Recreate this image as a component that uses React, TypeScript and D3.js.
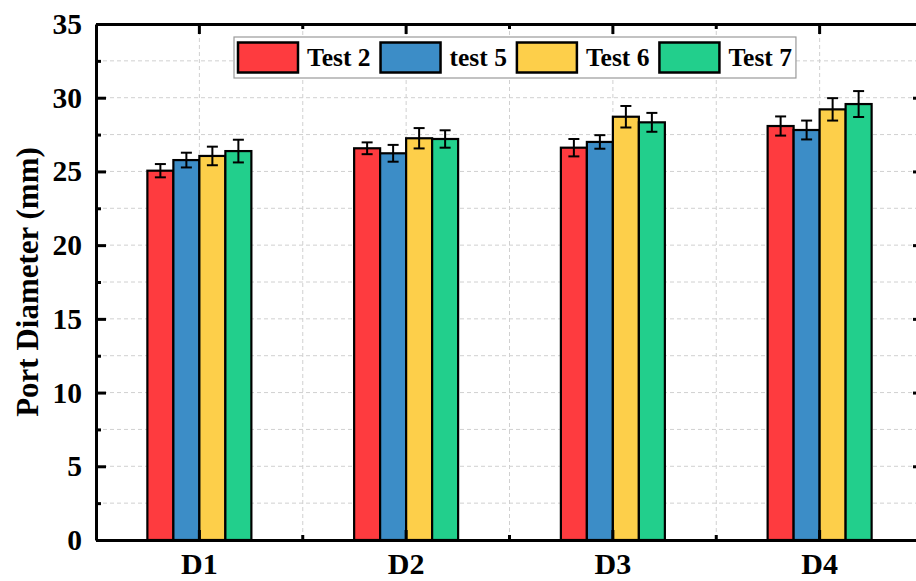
import React, { useEffect, useRef } from "react";
import * as d3 from "d3";

const categories = ["D1", "D2", "D3", "D4"];
const seriesNames = ["Test 2", "test 5", "Test 6", "Test 7"];
const seriesColors = ["#FE3B3F", "#3C8DC7", "#FDCF4A", "#22CF8C"];

const test2 = [25.05, 26.57, 26.61, 28.08];
const test5 = [25.77, 26.23, 27.0, 27.81];
const test6 = [26.05, 27.25, 28.71, 29.21];
const test7 = [26.38, 27.2, 28.33, 29.57];

const err2 = [0.45, 0.4, 0.59, 0.65];
const err5 = [0.5, 0.57, 0.46, 0.64];
const err6 = [0.63, 0.69, 0.73, 0.76];
const err7 = [0.77, 0.59, 0.64, 0.88];

const yMajor = [0, 5, 10, 15, 20, 25, 30, 35];
const yMinor = [2.5, 7.5, 12.5, 17.5, 22.5, 27.5, 32.5];

const FONT = "'Liberation Serif', 'DejaVu Serif', serif";

export default function App() {
  const ref = useRef<SVGSVGElement | null>(null);

  useEffect(() => {
    const width = 916;
    const height = 581;
    const left = 96, top = 24, right = 923, bottom = 540;

    const svg = d3.select(ref.current);
    svg.selectAll("*").remove();
    svg.attr("width", width).attr("height", height).style("font-family", FONT);

    const values = [test2, test5, test6, test7];
    const errors = [err2, err5, err6, err7];
    const rows: { cat: string; s: string; v: number; e: number; c: string }[] = [];
    categories.forEach((cat, i) => {
      seriesNames.forEach((s, j) => {
        rows.push({ cat, s, v: values[j][i], e: errors[j][i], c: seriesColors[j] });
      });
    });

    const x = d3.scaleBand().domain(categories).range([left, right]).padding(0);
    const inner = d3.scaleBand().domain(seriesNames).range([-52, 52]).padding(0);
    const y = d3.scaleLinear().domain([0, 35]).range([bottom, top]);
    const half = x.bandwidth() / 2;
    const boundaries = categories.slice(0, -1).map((c) => (x(c) as number) + x.bandwidth());
    const centers = categories.map((c) => (x(c) as number) + half);

    // grid
    const grid = svg.append("g").attr("stroke", "#d0d0d0").attr("stroke-width", 1).attr("stroke-dasharray", "4,3");
    grid.selectAll("line.h")
      .data(yMajor.concat(yMinor).filter((d) => d > 0 && d < 35))
      .join("line")
      .attr("class", "h")
      .attr("x1", left).attr("x2", right)
      .attr("y1", (d) => y(d)).attr("y2", (d) => y(d));
    grid.selectAll("line.v")
      .data(centers.concat(boundaries))
      .join("line")
      .attr("class", "v")
      .attr("x1", (d) => d).attr("x2", (d) => d)
      .attr("y1", top).attr("y2", bottom);

    // bars
    svg.append("g")
      .selectAll("rect")
      .data(rows)
      .join("rect")
      .attr("x", (d) => (x(d.cat) as number) + half + (inner(d.s) as number))
      .attr("y", (d) => y(d.v))
      .attr("width", inner.bandwidth())
      .attr("height", (d) => bottom - y(d.v))
      .attr("fill", (d) => d.c)
      .attr("stroke", "#000")
      .attr("stroke-width", 2.2);

    // error bars
    const eb = svg.append("g").attr("stroke", "#000").attr("stroke-width", 2);
    const cx = (d: any) => (x(d.cat) as number) + half + (inner(d.s) as number) + inner.bandwidth() / 2;
    eb.selectAll("line.stem").data(rows).join("line").attr("class", "stem")
      .attr("x1", cx).attr("x2", cx)
      .attr("y1", (d) => y(d.v + d.e)).attr("y2", (d) => y(d.v - d.e));
    eb.selectAll("line.capT").data(rows).join("line").attr("class", "capT")
      .attr("x1", (d) => cx(d) - 5.5).attr("x2", (d) => cx(d) + 5.5)
      .attr("y1", (d) => y(d.v + d.e)).attr("y2", (d) => y(d.v + d.e));
    eb.selectAll("line.capB").data(rows).join("line").attr("class", "capB")
      .attr("x1", (d) => cx(d) - 5.5).attr("x2", (d) => cx(d) + 5.5)
      .attr("y1", (d) => y(d.v - d.e)).attr("y2", (d) => y(d.v - d.e));

    // axes
    const styleAxis = (g: any) => {
      g.attr("font-family", null);
      g.select(".domain").attr("stroke-width", 3);
      g.selectAll(".tick line").attr("stroke-width", 3);
      g.selectAll("text")
        .style("font-family", FONT)
        .attr("font-weight", "bold")
        .attr("fill", "#000");
    };

    const yLeft = svg.append("g").attr("transform", `translate(${left},0)`)
      .call(d3.axisLeft(y).tickValues(yMajor).tickSizeInner(-10).tickSizeOuter(0).tickPadding(14));
    styleAxis(yLeft);
    yLeft.selectAll("text").attr("font-size", 29.5);

    svg.append("g").attr("transform", `translate(${left},0)`)
      .call(d3.axisLeft(y).tickValues(yMinor).tickSizeInner(-5).tickSizeOuter(0).tickFormat(() => ""))
      .call((g: any) => { g.select(".domain").remove(); g.selectAll("line").attr("stroke-width", 3); });

    const yRight = svg.append("g").attr("transform", `translate(${right},0)`)
      .call(d3.axisRight(y).tickValues(yMajor).tickSizeInner(-10).tickSizeOuter(0).tickFormat(() => ""));
    styleAxis(yRight);
    svg.append("g").attr("transform", `translate(${right},0)`)
      .call(d3.axisRight(y).tickValues(yMinor).tickSizeInner(-5).tickSizeOuter(0).tickFormat(() => ""))
      .call((g: any) => { g.select(".domain").remove(); g.selectAll("line").attr("stroke-width", 3); });

    const xBottom = svg.append("g").attr("transform", `translate(0,${bottom})`)
      .call(d3.axisBottom(x).tickSizeInner(-10).tickSizeOuter(0).tickPadding(13));
    styleAxis(xBottom);
    xBottom.selectAll("text").attr("font-size", 30);

    const xTop = svg.append("g").attr("transform", `translate(0,${top})`)
      .call(d3.axisTop(x).tickSizeInner(-10).tickSizeOuter(0).tickFormat(() => ""));
    styleAxis(xTop);

    const minorX = svg.append("g").attr("stroke", "#000").attr("stroke-width", 3);
    minorX.selectAll("line.b").data(boundaries).join("line").attr("class", "b")
      .attr("x1", (d) => d).attr("x2", (d) => d).attr("y1", bottom).attr("y2", bottom - 5);
    minorX.selectAll("line.t").data(boundaries).join("line").attr("class", "t")
      .attr("x1", (d) => d).attr("x2", (d) => d).attr("y1", top).attr("y2", top + 5);

    // y title
    svg.append("text")
      .attr("transform", `translate(38,${(top + bottom) / 2}) rotate(-90)`)
      .attr("text-anchor", "middle")
      .style("font-family", FONT)
      .attr("font-weight", "bold")
      .attr("font-size", 31)
      .text("Port Diameter (mm)");

    // legend
    const lg = svg.append("g");
    const box = lg.append("rect")
      .attr("x", 234).attr("y", 37).attr("height", 41)
      .attr("fill", "#fff").attr("stroke", "#9a9a9a").attr("stroke-width", 1.2);
    let cur = 238;
    seriesNames.forEach((s, j) => {
      lg.append("rect")
        .attr("x", cur).attr("y", 42.5).attr("width", 60).attr("height", 30)
        .attr("fill", seriesColors[j]).attr("stroke", "#000").attr("stroke-width", 2.5);
      const t = lg.append("text")
        .attr("x", cur + 69).attr("y", 66)
        .style("font-family", FONT)
        .attr("font-weight", "bold")
        .attr("font-size", 25.5)
        .text(s);
      const w = (t.node() as SVGTextElement).getComputedTextLength();
      cur = cur + 69 + w + 10;
    });
    box.attr("width", cur - 6 - 234);
  }, []);

  return (
    <div style={{ position: "absolute", left: 0, top: 0, width: 916, height: 581, overflow: "hidden", background: "#fff" }}>
      <svg ref={ref}></svg>
    </div>
  );
}
